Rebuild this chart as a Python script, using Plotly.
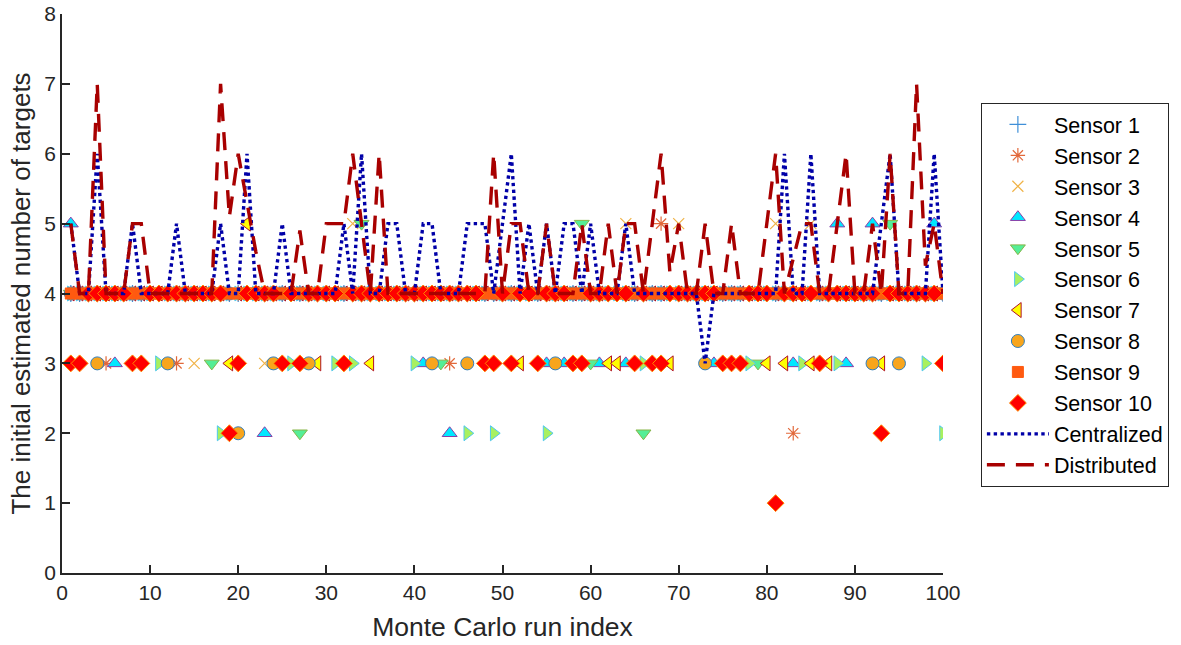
import plotly.graph_objects as go

runs = list(range(1, 101))

sensor1 = [4,4,4,4,4,4,4,4,4,4, 4,4,4,4,4,4,4,4,4,4, 4,4,4,4,4,4,4,4,4,4, 4,4,4,4,4,4,4,4,4,4,
           4,4,4,4,4,4,4,4,4,4, 4,4,4,4,4,4,4,4,4,4, 4,4,4,4,4,4,4,4,4,4, 4,4,4,4,4,4,4,4,4,4,
           4,4,4,4,4,4,4,4,4,4, 4,4,4,4,4,4,4,4,4,4]
sensor2 = [4,4,4,4,3,4,4,4,4,4, 4,4,3,4,4,4,4,4,4,4, 4,4,4,4,4,4,4,4,4,4, 4,4,4,4,4,4,4,4,4,4,
           4,4,4,3,4,4,4,4,4,4, 4,4,4,4,4,4,4,4,4,4, 4,4,4,4,4,4,4,5,4,4, 4,4,4,4,4,4,4,4,4,4,
           4,4,2,4,4,4,4,4,4,4, 4,4,4,4,4,4,4,4,4,4]
sensor3 = [4,4,4,4,4,4,4,4,4,4, 4,4,4,4,3,4,4,4,4,4, 4,4,3,4,4,4,4,4,4,4, 4,4,5,4,4,4,4,4,4,4,
           4,4,4,4,4,4,4,4,4,4, 4,4,4,4,4,4,4,4,4,4, 4,4,4,5,4,4,4,4,4,5, 4,4,4,4,4,4,4,4,4,4,
           5,4,4,4,5,4,4,4,4,4, 4,4,4,4,4,4,4,4,4,4]
sensor4 = [5,4,4,4,4,3,4,4,4,4, 4,4,4,4,4,4,4,4,4,4, 4,4,2,4,4,4,4,4,4,4, 4,4,4,4,4,4,4,4,4,4,
           3,4,4,2,4,4,4,4,4,4, 4,4,4,4,3,4,3,4,4,4, 3,4,4,3,4,4,4,4,4,4, 4,4,4,3,4,4,4,4,4,4,
           4,4,3,4,4,4,4,5,3,4, 4,5,4,4,4,4,4,4,5,4]
sensor5 = [4,4,4,4,4,4,4,4,4,4, 4,4,4,4,4,4,3,4,4,4, 4,4,4,4,4,4,2,4,4,4, 4,4,4,5,4,4,4,4,4,4,
           4,4,3,4,4,4,4,4,4,4, 4,4,4,4,4,4,4,4,5,3, 4,4,4,4,4,2,4,4,4,4, 4,4,4,4,4,4,4,4,3,4,
           4,4,4,4,4,4,4,4,4,4, 4,4,4,5,4,4,4,4,4,4]
sensor6 = [4,4,4,4,4,4,4,4,4,4, 3,4,4,4,4,4,4,2,4,4, 4,4,4,4,4,3,4,4,4,4, 3,4,3,4,4,4,4,4,4,3,
           4,4,4,4,4,2,4,4,2,4, 4,4,4,4,2,4,4,4,4,4, 4,4,4,4,4,3,4,4,4,4, 4,4,4,4,4,4,4,3,4,4,
           4,4,4,3,4,4,4,3,4,4, 4,4,4,4,4,4,4,3,4,2]
sensor7 = [4,4,4,4,4,4,4,4,4,4, 4,4,4,4,4,4,4,4,3,4, 5,4,4,4,4,4,4,4,3,4, 4,4,4,4,3,4,4,4,4,4,
           4,4,4,4,4,4,4,4,4,4, 4,3,4,4,4,4,4,4,4,4, 4,3,3,4,4,4,4,4,3,4, 4,4,4,4,4,4,4,4,4,3,
           4,3,4,4,3,4,3,4,4,4, 4,4,3,4,4,4,4,4,4,4]
sensor8 = [4,4,4,3,4,4,4,4,4,4, 4,3,4,4,4,4,4,4,4,2, 4,4,4,3,4,4,4,3,4,4, 4,4,4,4,4,4,4,4,4,4,
           4,3,4,4,4,3,4,4,4,4, 4,4,4,4,4,3,4,4,4,4, 4,4,4,4,4,4,4,4,4,4, 4,4,3,4,4,4,4,4,4,4,
           4,4,4,4,4,4,4,4,4,4, 4,3,4,4,3,4,4,4,4,4]
sensor9 = [4,4,4,4,4,4,4,4,4,4, 4,4,4,4,4,4,4,4,4,4, 4,4,4,4,4,4,4,4,4,4, 4,4,4,4,4,4,4,4,4,4,
           4,4,4,4,4,4,4,4,4,4, 4,4,4,4,4,4,4,4,4,4, 4,4,4,4,4,4,4,4,4,4, 4,4,4,4,4,4,4,4,4,4,
           4,4,4,4,4,4,4,4,4,4, 4,4,4,4,4,4,4,4,4,4]
sensor10 = [3,3,4,4,4,4,4,3,3,4, 4,4,4,4,4,4,4,4,2,3, 4,4,4,4,3,4,3,4,4,4, 4,3,4,4,4,4,4,4,4,4,
            4,4,4,4,4,4,4,3,3,4, 3,4,4,3,4,4,4,3,3,4, 4,4,4,4,3,4,3,3,4,4, 4,4,4,4,3,3,3,4,4,4,
            1,4,4,4,4,3,4,4,4,4, 4,4,2,4,4,4,4,4,4,3]

centralized = [5,4,4,6,4,4,4,5,4,4, 4,4,5,4,4,4,4,5,4,4, 6,4,4,4,5,4,4,4,4,4,
               4,5,4,6,4,4,5,5,4,4, 5,5,4,4,4,5,5,5,4,5, 6,4,5,4,5,4,5,5,4,5,
               4,4,4,5,4,4,4,4,4,4, 4,4,3,4,4,4,4,4,4,4, 4,6,4,4,6,4,4,4,4,4,
               4,4,5,6,4,4,4,4,6,4]
distributed = [5,4,4,7,4,4,4,5,5,4, 4,4,4,4,4,4,4,7,5.1,6, 5.3,4.6,4,4,4,4,4.9,4,4,5,
               5,5,6,5,4,6,4,4,4,4, 4,4,4,4,4,4,4,4,6,4, 5,5,4,4,5,4,4,4,5,4,
               4,5,4,5,5,4,5,6,4.3,5, 4,4,5,4,4,5,4,4,4,5, 6,4,4.5,5,5,4,4,5,6,4,
               4,5,4,6,4,4,7,4.4,5,4]

sensor_names = ["Sensor 1", "Sensor 2", "Sensor 3", "Sensor 4", "Sensor 5",
                "Sensor 6", "Sensor 7", "Sensor 8", "Sensor 9", "Sensor 10"]
sensor_values = [sensor1, sensor2, sensor3, sensor4, sensor5,
                 sensor6, sensor7, sensor8, sensor9, sensor10]

styles = [
    dict(symbol="cross-thin", size=12, color="#3f8fd8", line=dict(color="#3f8fd8", width=1.2)),
    dict(symbol="asterisk", size=12, color="#e2683a", line=dict(color="#e2683a", width=1.2)),
    dict(symbol="x-thin", size=11, color="#f0b347", line=dict(color="#f0b347", width=1.2)),
    dict(symbol="triangle-up", size=13, color="#00e8ff", line=dict(color="#8a3fa8", width=1)),
    dict(symbol="triangle-down", size=13, color="#55ee96", line=dict(color="#86b447", width=1)),
    dict(symbol="triangle-right", size=13, color="#a8f060", line=dict(color="#4fc8f0", width=1)),
    dict(symbol="triangle-left", size=13, color="#ffff00", line=dict(color="#b0102a", width=1)),
    dict(symbol="circle", size=13, color="#f8a51c", line=dict(color="#2f7fc0", width=1)),
    dict(symbol="square", size=11, color="#ff5a10", line=dict(color="#ff5a10", width=1)),
    dict(symbol="diamond", size=13, color="#ff0000", line=dict(color="#ff8a00", width=1)),
]

fig = go.Figure()
for name, vals, st in zip(sensor_names, sensor_values, styles):
    fig.add_trace(go.Scatter(x=runs, y=vals, mode="markers", name=name, marker=st))

fig.add_trace(go.Scatter(x=runs, y=centralized, mode="lines", name="Centralized",
                         line=dict(color="#0000a8", width=3.4, dash="dot")))
fig.add_trace(go.Scatter(x=runs, y=distributed, mode="lines", name="Distributed",
                         line=dict(color="#a80000", width=3.4, dash="18px,11px")))

axis_font = dict(family="Arial, Liberation Sans, sans-serif", size=21, color="#262626")
fig.update_layout(
    width=1181, height=645,
    margin=dict(l=62, r=236, t=14, b=72),
    paper_bgcolor="white", plot_bgcolor="white",
    font=dict(family="Arial, Liberation Sans, sans-serif", size=21, color="#262626"),
    legend=dict(x=1.043, y=0.841, xanchor="left", yanchor="top",
                bordercolor="#262626", borderwidth=1, bgcolor="white",
                itemwidth=62,
                font=dict(size=21.5, color="black"), tracegroupgap=0),
    showlegend=True,
)
fig.update_xaxes(range=[0, 100], tickvals=[0,10,20,30,40,50,60,70,80,90,100],
                 ticks="inside", ticklen=8, tickwidth=1.5, tickcolor="#262626",
                 showline=True, linecolor="#262626", linewidth=1.5, mirror=False,
                 showgrid=False, zeroline=False, tickfont=axis_font, automargin=False,
                 title=dict(text="Monte Carlo run index", font=dict(size=26.5, color="#262626"), standoff=14))
fig.update_yaxes(range=[0, 8], tickvals=[0,1,2,3,4,5,6,7,8],
                 ticks="inside", ticklen=8, tickwidth=1.5, tickcolor="#262626",
                 showline=True, linecolor="#262626", linewidth=1.5, mirror=False,
                 showgrid=False, zeroline=False, tickfont=axis_font, automargin=False,
                 title=dict(text="The initial estimated number of targets", font=dict(size=26, color="#262626"), standoff=6))

fig.write_html("out.html", config={"displayModeBar": False},
               post_script="document.body.style.margin='0';")
